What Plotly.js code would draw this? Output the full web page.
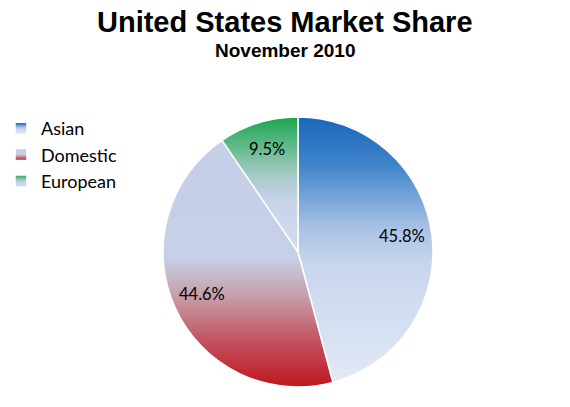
<!DOCTYPE html>
<html>
<head>
<meta charset="utf-8">
<script src="https://cdn.plot.ly/plotly-3.0.1.min.js"></script>
<style>
  html, body { margin: 0; padding: 0; background: #fff; }
  #chart { width: 570px; height: 407px; }
</style>
</head>
<body>
<div id="chart"></div>
<script>
// market share, November 2010
var segments = ['Asian', 'Domestic', 'European'];
var shares = [45.8, 44.6, 9.5];

// fallback flat colours, gradients are put on after drawing
var baseColors = ['#8fb2de', '#c98a94', '#7cc29c'];

// vertical gradient stops for every slice (offset, colour)
var gradients = [
    [[0, '#1b66bc'], [0.18, '#3f84ca'], [0.42, '#a9c2e4'], [0.55, '#c7d5ed'], [1, '#e2e9f6']],
    [[0, '#c4cfe8'], [0.48, '#c6d0e7'], [0.64, '#c79aa6'], [0.82, '#c2505d'], [1, '#c0161e']],
    [[0, '#19a54a'], [0.2, '#5cb888'], [0.44, '#a9cbc7'], [0.63, '#c8d3ea'], [1, '#d3dcef']]
];

var W = 570, H = 407;
var dom = { x: [163 / W, 433 / W], y: [20 / H, 290 / H] };
var labelRadius = 0.78;   // share of the pie radius where labels sit

var trace = {
    type: 'pie',
    labels: segments,
    values: shares,
    sort: false,
    direction: 'clockwise',
    rotation: 0,
    textinfo: 'none',
    marker: { colors: baseColors, line: { color: '#ffffff', width: 1.5 } },
    domain: dom,
    hoverinfo: 'label+percent'
};

// percentage labels placed at the middle angle of each slice
var total = shares.reduce(function (a, b) { return a + b; }, 0);
var radiusPx = Math.min((dom.x[1] - dom.x[0]) * W, (dom.y[1] - dom.y[0]) * H) / 2;
var cx = (dom.x[0] + dom.x[1]) / 2, cy = (dom.y[0] + dom.y[1]) / 2;
var acc = 0;
var labelNotes = shares.map(function (v) {
    var mid = (acc + v / 2) / total;
    acc += v;
    var a = 2 * Math.PI * mid;
    return {
        text: v.toFixed(1) + '%', xref: 'paper', yref: 'paper',
        x: cx + labelRadius * radiusPx * Math.sin(a) / W,
        y: cy + labelRadius * radiusPx * Math.cos(a) / H,
        xanchor: 'center', yanchor: 'middle', showarrow: false, yshift: 2,
        font: { family: 'Lato, sans-serif', size: 16.5, color: '#000' }
    };
});

var layout = {
    width: W,
    height: H,
    margin: { l: 0, r: 0, t: 0, b: 0 },
    paper_bgcolor: '#ffffff',
    showlegend: true,
    legend: {
        x: 1 / W, y: 1 - 110 / H, xanchor: 'left', yanchor: 'top',
        font: { family: 'Lato, sans-serif', size: 18, color: '#000' },
        bgcolor: 'rgba(0,0,0,0)'
    },
    annotations: [
        { text: '<b>United States Market Share</b>', xref: 'paper', yref: 'paper',
          x: 0.5, y: 1 - 22 / H, xanchor: 'center', yanchor: 'middle', showarrow: false,
          font: { family: 'Liberation Sans, Arial, sans-serif', size: 29, color: '#000' } },
        { text: '<b>November 2010</b>', xref: 'paper', yref: 'paper',
          x: 0.5, y: 1 - 50 / H, xanchor: 'center', yanchor: 'middle', showarrow: false,
          font: { family: 'Liberation Sans, Arial, sans-serif', size: 19, color: '#000' } }
    ].concat(labelNotes)
};

function addGradients(gd) {
    var svg = gd.querySelector('svg.main-svg');
    var ns = 'http://www.w3.org/2000/svg';
    var defs = document.createElementNS(ns, 'defs');
    svg.insertBefore(defs, svg.firstChild);
    gradients.forEach(function (stops, i) {
        var g = document.createElementNS(ns, 'linearGradient');
        g.setAttribute('id', 'sliceGrad' + i);
        g.setAttribute('x1', '0'); g.setAttribute('y1', '0');
        g.setAttribute('x2', '0'); g.setAttribute('y2', '1');
        stops.forEach(function (s) {
            var st = document.createElementNS(ns, 'stop');
            st.setAttribute('offset', s[0]);
            st.setAttribute('stop-color', s[1]);
            g.appendChild(st);
        });
        defs.appendChild(g);
    });
    gd.querySelectorAll('g.slice').forEach(function (sl, i) {
        var p = sl.querySelector('path.surface');
        if (p) p.style.fill = 'url(#sliceGrad' + i + ')';
    });
    gd.querySelectorAll('g.legend g.traces').forEach(function (tr, i) {
        var p = tr.querySelector('path.legendpie');
        if (p) p.style.fill = 'url(#sliceGrad' + i + ')';
    });
}

Plotly.newPlot('chart', [trace], layout, { displayModeBar: false, staticPlot: true })
    .then(addGradients);
</script>
</body>
</html>
